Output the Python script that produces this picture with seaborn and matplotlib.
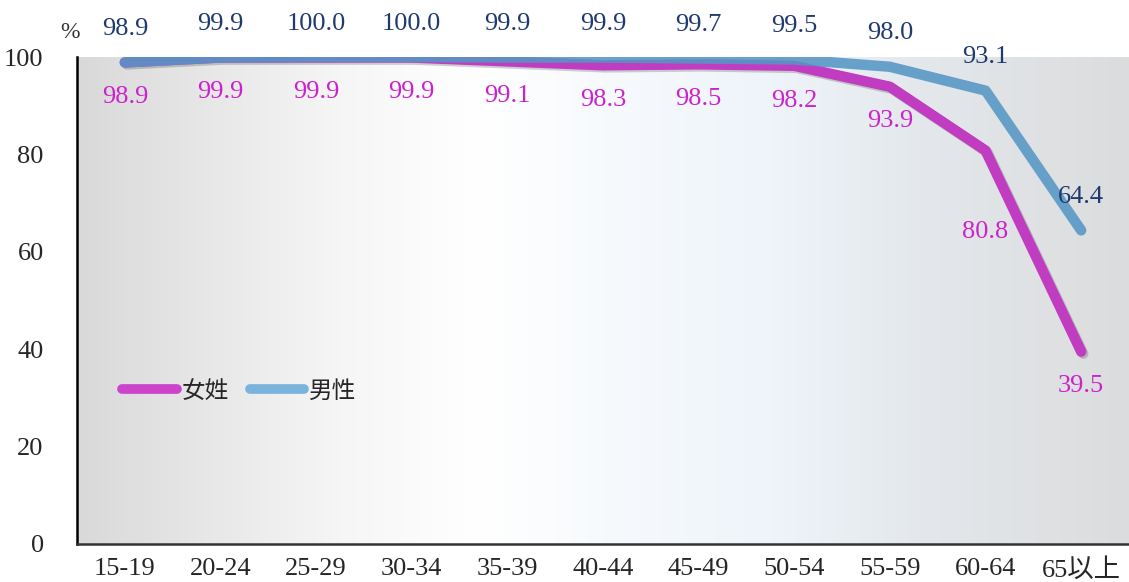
import numpy as np
import pandas as pd
import matplotlib
matplotlib.use("Agg")
import matplotlib.pyplot as plt
import matplotlib.patheffects as pe
from matplotlib.colors import LinearSegmentedColormap
from matplotlib.lines import Line2D
import seaborn as sns

# data
ages = ["15-19", "20-24", "25-29", "30-34", "35-39", "40-44", "45-49",
        "50-54", "55-59", "60-64", "65以上"]
female = [98.9, 99.9, 99.9, 99.9, 99.1, 98.3, 98.5, 98.2, 93.9, 80.8, 39.5]
male = [98.9, 99.9, 100.0, 100.0, 99.9, 99.9, 99.7, 99.5, 98.0, 93.1, 64.4]
yticks = [0, 20, 40, 60, 80, 100]

df = pd.DataFrame({
    "age": ages * 2,
    "rate": female + male,
    "sex": ["女姓"] * len(ages) + ["男性"] * len(ages),
})

sns.set_style("white")
num_font = ["Liberation Serif", "Noto Sans CJK TC"]
cjk_font = ["Noto Sans CJK TC", "DejaVu Sans"]
plt.rcParams["font.family"] = num_font

fig = plt.figure(figsize=(11.29, 5.82), dpi=100)
ax = fig.add_axes([0.0682, 0.0653, 0.9318, 0.8367])

# background gradient
bg = LinearSegmentedColormap.from_list(
    "bg", [(0.0, "#d9d9d9"), (0.25, "#f6f6f6"), (0.38, "#ffffff"),
           (0.5, "#f7fafd"), (0.66, "#eef4fa"), (0.8, "#e4e8ec"), (1.0, "#dbdcdd")])
ax.imshow(np.linspace(0, 1, 256).reshape(1, -1), cmap=bg, aspect="auto",
          extent=[-0.5, 10.5, 0, 100], zorder=0)

shadow = [pe.SimpleLineShadow(offset=(1.5, -1.5), alpha=0.18, shadow_color="black"), pe.Normal()]
sns.lineplot(data=df[df.sex == "女姓"], x="age", y="rate", color="#c03cc0",
             linewidth=7.5, ax=ax, legend=False, sort=False, zorder=2,
             solid_capstyle="round", solid_joinstyle="round", path_effects=shadow)
sns.lineplot(data=df[df.sex == "男性"], x="age", y="rate", color="#5596c4",
             linewidth=7.5, ax=ax, legend=False, sort=False, zorder=3,
             solid_capstyle="round", solid_joinstyle="round", alpha=0.88)

# data labels
for i, (f, m) in enumerate(zip(female, male)):
    ax.annotate(f"{m:.1f}", (i, m), xytext=(0, 24), textcoords="offset points",
                ha="center", va="center", fontsize=19, color="#1f3a6e",
                annotation_clip=False, zorder=5)
    off = -59 if i == 9 else -25
    ax.annotate(f"{f:.1f}", (i, f), xytext=(0, off), textcoords="offset points",
                ha="center", va="center", fontsize=19, color="#cc22cc",
                annotation_clip=False, zorder=5)

ax.set_xlim(-0.5, 10.5)
ax.set_ylim(0, 100)
ax.set_yticks(yticks)
ax.set_xlabel("")
ax.set_ylabel("")
ax.tick_params(axis="y", length=0, pad=24, labelsize=19)
ax.tick_params(axis="x", length=0, pad=10, labelsize=19)
for lab in ax.get_xticklabels():
    lab.set_family(num_font)
ax.text(-0.007, 1.05, "%", transform=ax.transAxes, ha="center", va="center",
        fontsize=17, color="#333333")

for s in ["top", "right"]:
    ax.spines[s].set_visible(False)
ax.spines["left"].set_color("black")
ax.spines["left"].set_linewidth(1.8)
ax.spines["bottom"].set_color("#333333")
ax.spines["bottom"].set_linewidth(1.8)

# legend
handles = [Line2D([], [], color="#cc44cc", lw=7, solid_capstyle="round"),
           Line2D([], [], color="#7ab4dc", lw=7, solid_capstyle="round")]
leg = ax.legend(handles, ["女姓", "男性"], loc="center left",
                bbox_to_anchor=(0.023, 0.314), ncol=2, frameon=False,
                handlelength=2.3, handletextpad=0.2, columnspacing=0.9,
                prop={"family": cjk_font, "size": 17})

fig.savefig("out.png", dpi=100)
